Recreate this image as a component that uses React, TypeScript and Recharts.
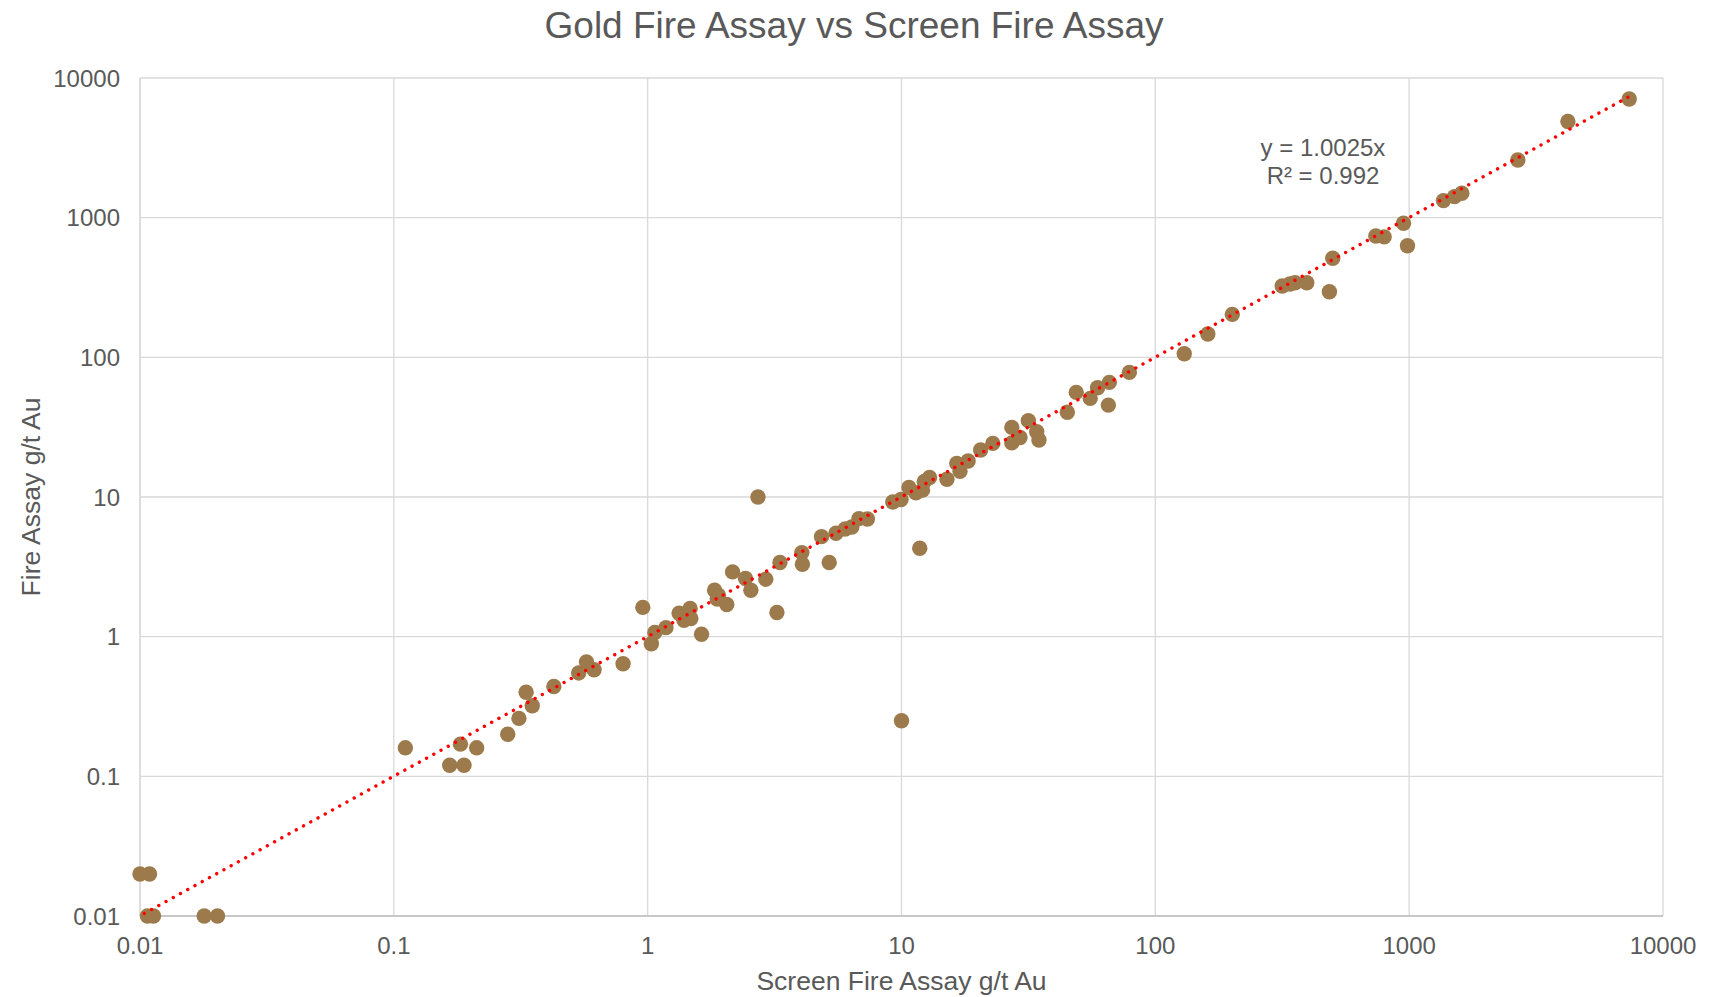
import React from "react";
import {
  ScatterChart,
  Scatter,
  XAxis,
  YAxis,
  CartesianGrid,
} from "recharts";

// Screen Fire Assay (x) vs Fire Assay (y), g/t Au
const screenFireAssay = [
  0.01, 0.0109, 0.0107, 0.0113, 0.0179, 0.0202, 0.111, 0.166, 0.189, 0.183,
  0.212, 0.281, 0.311, 0.332, 0.351, 0.427, 0.535, 0.574, 0.615, 0.8, 0.957,
  1.034, 1.067, 1.18, 1.33, 1.47, 1.39, 1.48, 1.63, 1.835, 1.9, 1.88, 2.05,
  2.16, 2.43, 2.55, 2.92, 3.23, 3.32, 2.72, 4.05, 4.07, 4.84, 5.19, 5.52, 6.0,
  6.37, 6.8, 7.34, 9.24, 9.96, 10.7, 11.4, 12.1, 12.3, 12.9, 11.8, 10.0, 15.1,
  16.5, 17.0, 18.3, 20.5, 22.9, 27.2, 27.2, 29.3, 31.6, 34.1, 34.8, 45.0, 48.8,
  55.4, 59.2, 65.3, 65.9, 79, 130, 161, 201, 316, 339, 355, 395, 485, 500, 739,
  797, 950, 985, 1365, 1509, 1612, 2680, 4220, 7360,
];
const fireAssay = [
  0.02, 0.02, 0.01, 0.01, 0.01, 0.01, 0.16, 0.12, 0.12, 0.17, 0.16, 0.2, 0.26,
  0.4, 0.32, 0.44, 0.55, 0.66, 0.58, 0.64, 1.62, 0.89, 1.07, 1.16, 1.47, 1.59,
  1.31, 1.35, 1.04, 2.15, 1.98, 1.86, 1.7, 2.91, 2.61, 2.15, 2.58, 1.49, 3.4,
  10, 4.0, 3.3, 5.2, 3.4, 5.5, 5.9, 6.1, 7.0, 6.95, 9.2, 9.6, 11.7, 10.7, 11.2,
  12.9, 13.8, 4.3, 0.25, 13.4, 17.4, 15.3, 18.1, 21.7, 24.2, 31.5, 24.4, 26.7,
  35.2, 29.3, 25.6, 40.4, 56.1, 50.8, 60.5, 45.5, 66.2, 78, 106, 147, 203, 324,
  335, 342, 342, 295, 512, 740, 728, 912, 630, 1325, 1414, 1496, 2590, 4880,
  7080,
];

// linear trendline through origin: y = 1.0025x
const slope = 1.0025;
const trendX = [0.0104, 7360];

const axisTicks = [0.01, 0.1, 1, 10, 100, 1000, 10000];

const points = screenFireAssay.map((x, i) => ({ x, y: fireAssay[i] }));
const trend = trendX.map((x) => ({ x, y: slope * x }));

const TEXT = "#595959";
const FONT = "'Liberation Sans', Arial, sans-serif";

const Dot = (props: any) => (
  <circle cx={props.cx} cy={props.cy} r={7.7} fill="#9D7A4B" />
);

export default function App() {
  return (
    <div
      style={{
        position: "absolute",
        left: 0,
        top: 0,
        width: 1714,
        height: 997,
        background: "#fff",
        fontFamily: FONT,
      }}
    >
      <div
        style={{
          position: "absolute",
          left: 0,
          top: 7,
          width: 1708,
          textAlign: "center",
          fontSize: 37,
          lineHeight: "37px",
          color: TEXT,
        }}
      >
        Gold Fire Assay vs Screen Fire Assay
      </div>
      <div
        style={{
          position: "absolute",
          left: 1223,
          top: 134,
          width: 200,
          textAlign: "center",
          fontSize: 24,
          lineHeight: "28px",
          color: TEXT,
        }}
      >
        y = 1.0025x
        <br />
        R² = 0.992
      </div>
      <ScatterChart
        width={1714}
        height={997}
        margin={{ top: 78, right: 51, left: 40, bottom: 7 }}
        style={{ position: "absolute", left: 0, top: 0 }}
      >
        <CartesianGrid stroke="#D9D9D9" strokeWidth={1.3} />
        <XAxis
          type="number"
          dataKey="x"
          scale="log"
          domain={[0.01, 10000]}
          ticks={axisTicks}
          tickFormatter={(v) => String(v)}
          height={74}
          tickLine={false}
          tickSize={0}
          tickMargin={21}
          axisLine={{ stroke: "#BFBFBF", strokeWidth: 1.3 }}
          tick={{ fill: TEXT, fontSize: 24, fontFamily: FONT }}
          label={{
            value: "Screen Fire Assay g/t Au",
            position: "insideBottom",
            offset: 0,
            fill: TEXT,
            fontSize: 26.5,
            fontFamily: FONT,
          }}
        />
        <YAxis
          type="number"
          dataKey="y"
          scale="log"
          domain={[0.01, 10000]}
          ticks={axisTicks}
          tickFormatter={(v) => String(v)}
          width={100}
          tickLine={false}
          tickSize={0}
          tickMargin={20}
          axisLine={{ stroke: "#D9D9D9", strokeWidth: 1.3 }}
          tick={{ fill: TEXT, fontSize: 24, fontFamily: FONT }}
          label={{
            content: (p: any) => {
              const vb = p.viewBox;
              const cx = vb.x;
              const cy = vb.y + vb.height / 2;
              return (
                <text
                  x={cx}
                  y={cy}
                  transform={`rotate(-90, ${cx}, ${cy})`}
                  textAnchor="middle"
                  fill={TEXT}
                  fontSize={26.5}
                  fontFamily={FONT}
                >
                  Fire Assay g/t Au
                </text>
              );
            },
          }}
        />
        <Scatter
          data={points}
          shape={Dot}
          isAnimationActive={false}
        />
        <Scatter
          data={trend}
          shape={() => <g />}
          line={{
            stroke: "#FF0000",
            strokeWidth: 3.4,
            strokeDasharray: "0.01 8.25",
            strokeLinecap: "round",
          }}
          isAnimationActive={false}
        />
      </ScatterChart>
    </div>
  );
}
